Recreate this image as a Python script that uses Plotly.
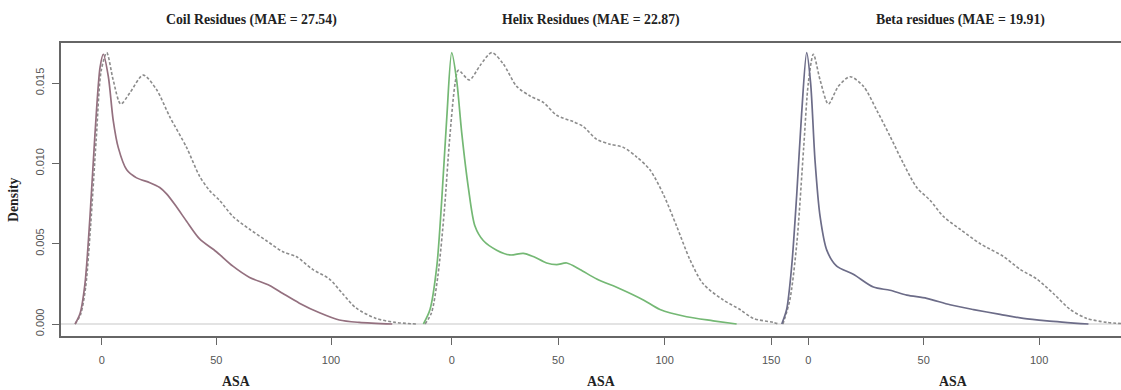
import plotly.graph_objects as go
from plotly.subplots import make_subplots

# ---------------- data ----------------
titles = ["Coil Residues (MAE = 27.54)", "Helix Residues (MAE = 22.87)", "Beta residues (MAE = 19.91)"]
x_label = "ASA"
y_label = "Density"

coil_asa = [-11.6, -9.4, -7.3, -5.1, -2.9, -0.7, 0.7, 2.9, 5.0, 7.2, 10.9, 15.2, 21, 25.3, 28.3, 32.6,
            37, 42.7, 50, 57.2, 64.5, 73.2, 79, 86.2, 95, 103.6, 112.3, 126.7]
coil_pred = [0.0, 0.00067, 0.0025, 0.0067, 0.0119, 0.0160, 0.0168, 0.0154, 0.0127, 0.0110, 0.0096, 0.0091,
             0.0088, 0.0085, 0.0081, 0.0073, 0.0064, 0.0053, 0.0045, 0.0036, 0.0029, 0.0024, 0.0019,
             0.0013, 0.0007, 0.00025, 0.0001, 0.0]
coil_obs_asa = [-11.6, -9.2, -7.0, -4.8, -2.4, -0.2, 2.2, 5.0, 8.3, 12.3, 18.1, 23.9, 29.7, 37, 42.7, 47.1,
                51.4, 57.2, 64.5, 71.7, 79, 84.8, 92, 99.3, 105, 110.9, 119.6, 128, 137.5]
coil_obs = [0.0, 0.0006, 0.0023, 0.0062, 0.0115, 0.0158, 0.0169, 0.0152, 0.0137, 0.0144, 0.0155, 0.0146,
            0.0129, 0.0110, 0.0092, 0.0083, 0.0077, 0.0067, 0.0059, 0.0052, 0.0045, 0.0042, 0.0034,
            0.0028, 0.0019, 0.0010, 0.00035, 0.0001, 0.0]

helix_asa = [-13.3, -10.2, -7.0, -4.7, -2.3, 0, 2.3, 4.7, 7.8, 10.9, 14.8, 21.1, 27.4, 33.6, 38.3, 44.6,
             49.3, 54, 60.2, 68.1, 79, 90, 97.8, 110.3, 122.8, 133.8]
helix_pred = [0.0, 0.0009, 0.0036, 0.0077, 0.0129, 0.0169, 0.0152, 0.0119, 0.0085, 0.0061, 0.0052, 0.0046,
              0.0043, 0.0044, 0.0042, 0.0038, 0.0037, 0.0038, 0.0034, 0.0028, 0.0022, 0.0015, 0.0009,
              0.00045, 0.0002, 0.0]
helix_obs_asa = [-12.5, -9.5, -6.5, -3.5, -1.0, 1.6, 3.1, 8.3, 13.3, 18.8, 24.2, 30.5, 36.8, 43, 49.3, 57.1,
                 61.8, 68.1, 74.3, 80.6, 86.9, 93.1, 99.3, 105.6, 111.9, 118.1, 127.5, 135.4, 141.6, 151,
                 153.5]
helix_obs = [0.0, 0.0007, 0.0030, 0.0070, 0.0115, 0.0150, 0.0158, 0.0152, 0.0161, 0.0169, 0.0162, 0.0148,
             0.0142, 0.0138, 0.0130, 0.0126, 0.0123, 0.0115, 0.0112, 0.0110, 0.0104, 0.0096, 0.0081,
             0.0061, 0.0040, 0.0025, 0.0015, 0.0009, 0.00035, 0.0001, 0.0]

beta_asa = [-11.5, -9.4, -7.2, -5.0, -2.9, -0.7, 1.0, 2.9, 5.1, 8.0, 12.3, 19.5, 28.2, 35.4, 42.7, 51.3,
            61.4, 71.6, 83.1, 93.2, 103.4, 121.4]
beta_pred = [0.0, 0.0009, 0.0036, 0.0081, 0.0131, 0.0169, 0.0150, 0.0102, 0.0067, 0.0046, 0.0036, 0.0031,
             0.0023, 0.0021, 0.0018, 0.0016, 0.0012, 0.0009, 0.0006, 0.00035, 0.0002, 0.0]
beta_obs_asa = [-11.0, -8.0, -5.0, -2.0, 0.0, 2.2, 5.1, 8.7, 13, 18.1, 23.9, 29.7, 35.4, 41.2, 47, 52.8,
                58.5, 65.8, 74.5, 84.6, 91.8, 99, 106.2, 113.5, 120.7, 129.4, 135.6]
beta_obs = [0.0, 0.0015, 0.0050, 0.0110, 0.0150, 0.0168, 0.0152, 0.0137, 0.0148, 0.0154, 0.0148, 0.0133,
            0.0117, 0.0100, 0.0085, 0.0077, 0.0067, 0.0059, 0.0050, 0.0042, 0.0034, 0.0028, 0.0019,
            0.0009, 0.00035, 0.0001, 0.00003]

y_ticks = [0.000, 0.005, 0.010, 0.015]
y_tick_text = ["0.000", "0.005", "0.010", "0.015"]
x_ticks = [[0, 50, 100], [0, 50, 100, 150], [0, 50, 100]]

# ---------------- style ----------------
pred_colors = ["#94707f", "#74b874", "#6c6c88"]
obs_color = "#8c8c8c"
axis_color = "#666666"
tick_font = dict(family="Liberation Sans", size=11, color="#555555")
serif_bold = dict(family="Liberation Serif", size=13.8, color="#222222")

W, H = 1121, 390
ml, mt, mb = 61, 43, 54
pw = W - ml
ph = H - mt - mb

def px_to_paper_x(px):
    return (px - ml) / pw

def py_to_paper_y(py):
    return (H - mb - py) / ph

domains = [[0, px_to_paper_x(420)], [px_to_paper_x(420), px_to_paper_x(779)], [px_to_paper_x(779), 1.0]]
x_ranges = [[-17.75, 138.8], [-14.9, 153.7], [-12.7, 135.5]]
y_range = [-0.000747, 0.0175]

fig = make_subplots(rows=1, cols=3, shared_yaxes=True, horizontal_spacing=0)

series = [(coil_asa, coil_pred, coil_obs_asa, coil_obs),
          (helix_asa, helix_pred, helix_obs_asa, helix_obs),
          (beta_asa, beta_pred, beta_obs_asa, beta_obs)]

for i, (xa, ya, xo, yo) in enumerate(series):
    fig.add_trace(go.Scatter(x=xo, y=yo, mode="lines", line=dict(color=obs_color, width=1.6, dash="3px,2px",
                                                                 shape="spline", smoothing=0.8),
                             showlegend=False, hoverinfo="skip"), row=1, col=i + 1)
    fig.add_trace(go.Scatter(x=xa, y=ya, mode="lines", line=dict(color=pred_colors[i], width=1.7,
                                                                 shape="spline", smoothing=0.8),
                             showlegend=False, hoverinfo="skip"), row=1, col=i + 1)

for i in range(3):
    fig.update_xaxes(domain=domains[i], range=x_ranges[i], tickvals=x_ticks[i],
                     ticks="outside", ticklen=7, tickcolor=axis_color, tickwidth=1.2,
                     showline=True, linecolor=axis_color, linewidth=1.6, mirror=True,
                     showgrid=False, zeroline=False, tickfont=tick_font, ticklabelstandoff=6,
                     row=1, col=i + 1)
    fig.update_yaxes(range=y_range, showgrid=False, zeroline=False, row=1, col=i + 1)

fig.update_yaxes(tickvals=y_ticks, ticktext=y_tick_text, ticks="outside", ticklen=7, tickcolor=axis_color,
                 tickwidth=1.2, showline=True, linecolor=axis_color, linewidth=1.6, tickangle=-90,
                 tickfont=tick_font, ticklabelstandoff=4, row=1, col=1)

# zero reference line
fig.add_shape(type="line", xref="paper", yref="y", x0=0, x1=1, y0=0, y1=0,
              line=dict(color="#c8c8c8", width=1.2), layer="below")

# titles
title_px = [251, 591, 960]
for t, cx in zip(titles, title_px):
    fig.add_annotation(text=f"<b>{t}</b>", xref="paper", yref="paper", x=px_to_paper_x(cx),
                       y=py_to_paper_y(20), xanchor="center", yanchor="middle", showarrow=False,
                       font=serif_bold)

# ASA labels
for cx in [236, 601, 953]:
    fig.add_annotation(text=f"<b>{x_label}</b>", xref="paper", yref="paper", x=px_to_paper_x(cx),
                       y=py_to_paper_y(381), xanchor="center", yanchor="middle", showarrow=False,
                       font=serif_bold)

fig.add_annotation(text=f"<b>{y_label}</b>", xref="paper", yref="paper", x=px_to_paper_x(13),
                   y=py_to_paper_y(200), xanchor="center", yanchor="middle", showarrow=False,
                   textangle=-90, font=serif_bold)

fig.update_layout(width=W, height=H, margin=dict(l=ml, r=0, t=mt, b=mb),
                  paper_bgcolor="white", plot_bgcolor="white", showlegend=False)

fig.write_html("out.html", config={"displayModeBar": False},
               post_script="document.body.style.margin='0';document.body.style.overflow='hidden';")
